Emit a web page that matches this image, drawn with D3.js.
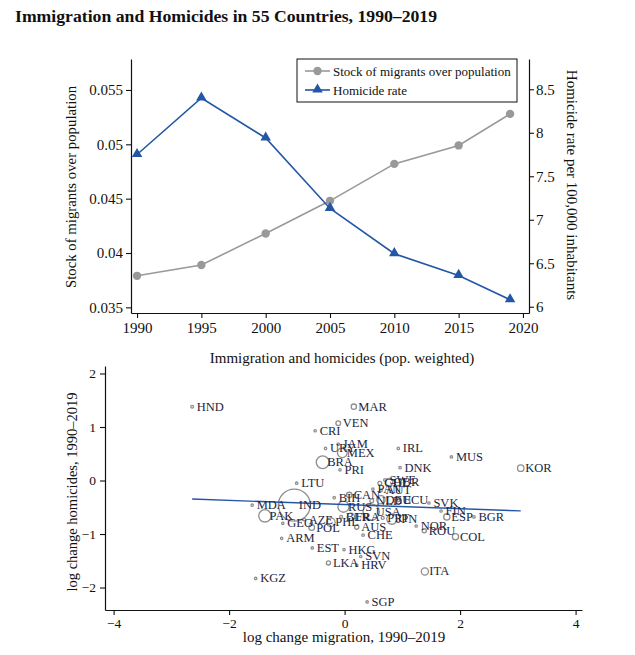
<!DOCTYPE html>
<html>
<head>
<meta charset="utf-8">
<script src="https://cdn.jsdelivr.net/npm/d3@7"></script>
<style>
  body { margin: 0; background: #fff; }
  svg text { font-family: "Liberation Serif", "Times New Roman", serif; }
</style>
</head>
<body>
<div class="chart"></div>
<script>
// top panel data
const years = [1990, 1995, 2000, 2005, 2010, 2015, 2019];
const migrantStock = [0.0379, 0.0389, 0.0418, 0.0448, 0.0482, 0.0499, 0.0528];
const homicideRate = [7.75, 8.40, 7.94, 7.13, 6.61, 6.36, 6.08];
const yearTicks = [1990, 1995, 2000, 2005, 2010, 2015, 2020];
const stockTicks = [0.035, 0.04, 0.045, 0.05, 0.055];
const rateTicks = [6, 6.5, 7, 7.5, 8, 8.5];

// bottom panel data (log changes 1990-2019, population in millions)
const countries = ["HND","MAR","VEN","CRI","URY","JAM","MEX","BRA","PRI","IRL","MUS","KOR","DNK","LTU","BIH","CAN","MDA","IND","PAK","GEO","AZE","POL","PHL","BLR","RUS","FRA","USA","PRT","JPN","NLD","DEU","ECU","SVK","FIN","ESP","BGR","NOR","ROU","COL","AUS","CHE","ARM","EST","HKG","LKA","SVN","HRV","KGZ","SGP","ITA","CHL","SWE","GBR","PAN","AUT"];
const migChange = [-2.64,0.16,-0.11,-0.51,-0.33,-0.11,-0.04,-0.38,-0.08,0.93,1.85,3.05,0.96,-0.83,-0.18,0.08,-1.60,-0.87,-1.38,-1.07,-0.70,-0.57,-0.24,-0.06,-0.02,0.11,0.46,0.66,0.82,0.47,0.63,0.94,1.46,1.67,1.77,2.24,1.24,1.38,1.92,0.21,0.32,-1.09,-0.56,-0.01,-0.28,0.28,0.21,-1.54,0.39,1.39,0.61,0.70,0.77,0.49,0.63];
const homChange = [1.38,1.38,1.07,0.93,0.60,0.68,0.52,0.34,0.20,0.60,0.44,0.23,0.24,-0.05,-0.32,-0.27,-0.46,-0.46,-0.66,-0.80,-0.73,-0.88,-0.78,-0.68,-0.49,-0.68,-0.59,-0.70,-0.72,-0.38,-0.36,-0.36,-0.42,-0.57,-0.68,-0.68,-0.85,-0.94,-1.05,-0.87,-1.02,-1.08,-1.26,-1.29,-1.54,-1.42,-1.58,-1.83,-2.27,-1.70,-0.05,0.01,-0.03,-0.16,-0.18];
const population = [9,33,26,4.5,3.4,2.8,110,190,3.7,4.5,1.2,49,5.5,3.2,3.8,34,3.5,1200,180,4,9,38,90,9.5,143,64,310,10.5,127,16.5,81,15,5.4,5.4,46,7.4,5,20,45,22,8,3,1.3,7,20,2,4.3,5.4,5,60,17,9.4,63,3.6,8.4];
const xTicks = [-4, -2, 0, 2, 4];
const yTicks = [-2, -1, 0, 1, 2];
// weighted fit: intercept, slope
const fitIntercept = -0.449;
const fitSlope = -0.039;

const width = 635, height = 655;
const svg = d3.select('.chart').append('svg')
  .attr('width', width).attr('height', height)
  .attr('viewBox', '0 0 ' + width + ' ' + height);

const ink = '#111';
const grey = '#999';
const blue = '#2456a6';
const labelInk = '#1d2640';

svg.append('text')
  .attr('x', 15).attr('y', 22)
  .attr('font-size', 17.7).attr('font-weight', 'bold')
  .attr('fill', '#111')
  .text('Immigration and Homicides in 55 Countries, 1990\u20132019');

function styleAxis(g, fs) {
  g.select('.domain').attr('stroke', ink).attr('stroke-width', 1.2);
  g.selectAll('.tick line').attr('stroke', ink).attr('stroke-width', 1.1);
  g.selectAll('.tick text').attr('font-size', fs).attr('fill', '#111')
    .style('font-family', '"Liberation Serif", serif');
}

// ---------- top panel ----------
let topBox = { left: 131, right: 529, top: 59, bottom: 313 };

let x1 = d3.scaleLinear().domain([1989.53, 2020.47]).range([topBox.left, topBox.right]);
let yL = d3.scaleLinear().domain([0.03448, 0.05785]).range([topBox.bottom, topBox.top]);
let yR = d3.scaleLinear().domain([5.928, 8.848]).range([topBox.bottom, topBox.top]);

let gTop = svg.append('g');

gTop.append('g')
  .attr('transform', 'translate(0,' + topBox.bottom + ')')
  .call(d3.axisBottom(x1).tickValues(yearTicks).tickFormat(d3.format('d')).tickSizeInner(5).tickSizeOuter(0).tickPadding(4))
  .call(g => styleAxis(g, 15));

gTop.append('g')
  .attr('transform', 'translate(' + topBox.left + ',0)')
  .call(d3.axisLeft(yL).tickValues(stockTicks).tickFormat(d3.format('~g')).tickSizeInner(5).tickSizeOuter(0).tickPadding(3))
  .call(g => styleAxis(g, 15));

gTop.append('g')
  .attr('transform', 'translate(' + topBox.right + ',0)')
  .call(d3.axisRight(yR).tickValues(rateTicks).tickFormat(d3.format('~g')).tickSizeInner(5).tickSizeOuter(0).tickPadding(2))
  .call(g => styleAxis(g, 15));

gTop.append('text')
  .attr('transform', 'translate(71,' + ((topBox.top + topBox.bottom) / 2 + 1) + ') rotate(-90)')
  .attr('text-anchor', 'middle').attr('dominant-baseline', 'central')
  .attr('font-size', 14.8).attr('fill', '#111')
  .text('Stock of migrants over population');

gTop.append('text')
  .attr('transform', 'translate(572,' + ((topBox.top + topBox.bottom) / 2 - 1) + ') rotate(90)')
  .attr('text-anchor', 'middle').attr('dominant-baseline', 'central')
  .attr('font-size', 15).attr('fill', '#111')
  .text('Homicide rate per 100,000 inhabitants');

let stockLine = d3.line().x((d, i) => x1(years[i])).y(d => yL(d));
let rateLine = d3.line().x((d, i) => x1(years[i])).y(d => yR(d));

gTop.append('path').datum(migrantStock)
  .attr('d', stockLine).attr('fill', 'none')
  .attr('stroke', grey).attr('stroke-width', 1.6);
gTop.selectAll('.stock-pt').data(migrantStock).enter().append('circle')
  .attr('class', 'stock-pt')
  .attr('cx', (d, i) => x1(years[i])).attr('cy', d => yL(d))
  .attr('r', 4.2).attr('fill', grey);

let tri = d3.symbol().type(d3.symbolTriangle).size(48);

gTop.append('path').datum(homicideRate)
  .attr('d', rateLine).attr('fill', 'none')
  .attr('stroke', blue).attr('stroke-width', 1.6);
gTop.selectAll('.rate-pt').data(homicideRate).enter().append('path')
  .attr('class', 'rate-pt')
  .attr('transform', (d, i) => 'translate(' + x1(years[i]) + ',' + (yR(d) - 0.5) + ')')
  .attr('d', tri).attr('fill', blue);

// legend
let lg = gTop.append('g').attr('transform', 'translate(297,59)');
lg.append('rect').attr('width', 220).attr('height', 43)
  .attr('fill', '#fff').attr('stroke', ink).attr('stroke-width', 1);
lg.append('line').attr('x1', 8).attr('x2', 33).attr('y1', 12).attr('y2', 12)
  .attr('stroke', grey).attr('stroke-width', 1.6);
lg.append('circle').attr('cx', 20.5).attr('cy', 12).attr('r', 4.2).attr('fill', grey);
lg.append('text').attr('x', 36).attr('y', 12).attr('dominant-baseline', 'central')
  .attr('font-size', 13).attr('fill', '#111').text('Stock of migrants over population');
lg.append('line').attr('x1', 8).attr('x2', 33).attr('y1', 31).attr('y2', 31)
  .attr('stroke', blue).attr('stroke-width', 1.6);
lg.append('path').attr('transform', 'translate(20.5,30.5)').attr('d', tri).attr('fill', blue);
lg.append('text').attr('x', 36).attr('y', 31).attr('dominant-baseline', 'central')
  .attr('font-size', 13).attr('fill', '#111').text('Homicide rate');

// ---------- bottom panel ----------
let bot = { left: 105, right: 582, top: 366, bottom: 610 };

let x2 = d3.scaleLinear().domain([-4.149, 4.111]).range([bot.left, bot.right]);
let y2 = d3.scaleLinear().domain([-2.42, 2.14]).range([bot.bottom, bot.top]);
let rScale = d3.scaleSqrt().domain([0, 1200]).range([0, 16]);

let gBot = svg.append('g');

gBot.append('text')
  .attr('x', 342).attr('y', 363)
  .attr('text-anchor', 'middle').attr('font-size', 15).attr('fill', '#111')
  .text('Immigration and homicides (pop. weighted)');

gBot.append('g')
  .attr('transform', 'translate(0,' + bot.bottom + ')')
  .call(d3.axisBottom(x2).tickValues(xTicks).tickFormat(d3.format('~g')).tickSizeInner(5).tickSizeOuter(0).tickPadding(3))
  .call(g => styleAxis(g, 13.5));

gBot.append('g')
  .attr('transform', 'translate(' + bot.left + ',0)')
  .call(d3.axisLeft(y2).tickValues(yTicks).tickFormat(d3.format('~g')).tickSizeInner(5).tickSizeOuter(0).tickPadding(4))
  .call(g => styleAxis(g, 13.5));

gBot.append('text')
  .attr('x', 344).attr('y', 642)
  .attr('text-anchor', 'middle').attr('font-size', 15).attr('fill', '#111')
  .text('log change migration, 1990\u20132019');

gBot.append('text')
  .attr('transform', 'translate(72,' + ((bot.top + bot.bottom) / 2 + 4) + ') rotate(-90)')
  .attr('text-anchor', 'middle').attr('dominant-baseline', 'central')
  .attr('font-size', 14.5).attr('fill', '#111')
  .text('log change homicides, 1990\u20132019');

let pts = countries.map((c, i) => ({ c: c, x: migChange[i], y: homChange[i], p: population[i] }));

gBot.selectAll('.ctry').data(pts).enter().append('circle')
  .attr('class', 'ctry')
  .attr('cx', d => x2(d.x)).attr('cy', d => y2(d.y))
  .attr('r', d => Math.max(1.2, rScale(d.p)))
  .attr('fill', 'none').attr('stroke', '#8f8f8f').attr('stroke-width', 1.3);

let xs = d3.extent(migChange);
gBot.append('line')
  .attr('x1', x2(xs[0])).attr('y1', y2(fitIntercept + fitSlope * xs[0]))
  .attr('x2', x2(xs[1])).attr('y2', y2(fitIntercept + fitSlope * xs[1]))
  .attr('stroke', blue).attr('stroke-width', 1.4);

gBot.selectAll('.lbl').data(pts).enter().append('text')
  .attr('class', 'lbl')
  .attr('x', d => x2(d.x) + 4.5).attr('y', d => y2(d.y))
  .attr('dominant-baseline', 'central')
  .attr('font-size', 12.5).attr('fill', labelInk)
  .text(d => d.c);
</script>
</body>
</html>
